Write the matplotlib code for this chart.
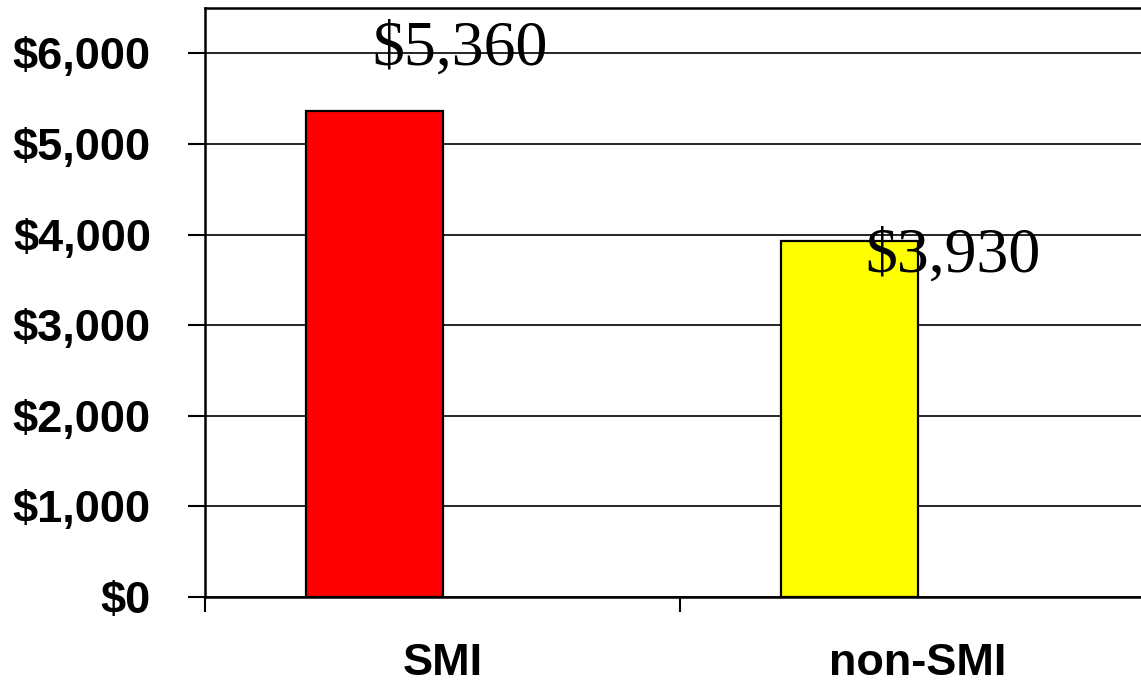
import matplotlib
matplotlib.use("Agg")
import matplotlib.pyplot as plt
from matplotlib.ticker import FuncFormatter, FixedLocator

categories = ["SMI", "non-SMI"]
values = [5360, 3930]
bar_colors = ["#FF0000", "#FFFF00"]
y_ticks = [0, 1000, 2000, 3000, 4000, 5000, 6000]

fig = plt.figure(figsize=(11.41, 6.84), dpi=100)
ax = fig.add_axes([0.1797, 0.1272, 0.8326, 0.8611])

x = list(range(len(categories)))
bar_w = 0.288
# first series of a two-slot cluster: bars sit left of the category centre
ax.bar([xi - bar_w / 2 for xi in x], values, width=bar_w, color=bar_colors,
       edgecolor="black", linewidth=1.6, zorder=3)

ax.set_xlim(-0.5, 1.5)
ax.set_ylim(0, 6500)

ax.yaxis.set_major_locator(FixedLocator(y_ticks))
ax.yaxis.set_major_formatter(FuncFormatter(lambda v, p: f"${v:,.0f}"))
ax.grid(axis="y", color="black", linewidth=1.2, zorder=1)

# category boundaries get tick marks, labels sit at centres
ax.set_xticks([-0.5, 0.5, 1.5])
ax.set_xticklabels([])
ax.set_xticks(x, minor=True)
ax.set_xticklabels(categories, minor=True)
ax.tick_params(axis="x", which="major", length=11, width=1.5, direction="out")
ax.tick_params(axis="x", which="minor", length=0, pad=33)
ax.tick_params(axis="y", length=12, width=1.5, direction="out", pad=27)

for lbl in ax.get_xticklabels(minor=True) + ax.get_yticklabels():
    lbl.set_family("Liberation Sans")
    lbl.set_fontweight("bold")
    lbl.set_fontsize(32.5)

for side in ["left", "bottom", "top"]:
    ax.spines[side].set_linewidth(1.8)
ax.spines["right"].set_visible(False)

# value labels
label_pos = [(0.037, 5879), (1.075, 3593)]
for (lx, ly), v in zip(label_pos, values):
    ax.text(lx, ly, f"${v:,.0f}", ha="center", va="baseline",
            family="Liberation Serif", fontsize=46, zorder=4)

fig.savefig("out.png", dpi=100)
